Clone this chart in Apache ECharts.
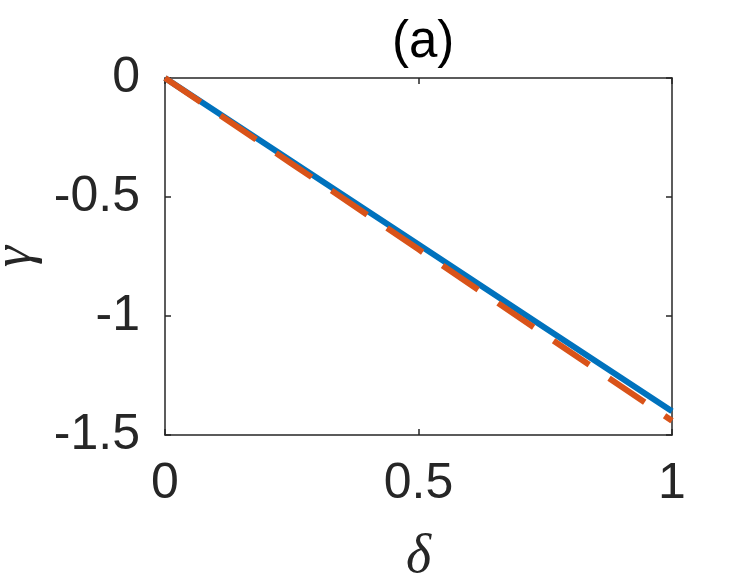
<!DOCTYPE html>
<html>
<head>
<meta charset="utf-8">
<script src="https://cdn.jsdelivr.net/npm/echarts@6/dist/echarts.min.js"></script>
<style>
html,body{margin:0;padding:0;background:#fff;}
#c{width:745px;height:583px;}
</style>
</head>
<body>
<div id="c"></div>
<script>
const titleText = '(a)';
const xName = 'δ';
const yName = 'γ';
const deltaValues = [0, 0.25, 0.5, 0.75, 1];
const gammaSolid = [0, -0.35, -0.70, -1.05, -1.40];
const gammaDashed = [0, -0.36, -0.72, -1.08, -1.44];
const xTickInterval = 0.5;
const yTickInterval = 0.5;

const solidData = deltaValues.map((x, i) => [x, gammaSolid[i]]);
const dashedData = deltaValues.map((x, i) => [x, gammaDashed[i]]);

const axisColor = '#262626';
const labelFont = {fontFamily: 'Liberation Sans, Arial, sans-serif', fontSize: 50, color: axisColor};

const chart = echarts.init(document.getElementById('c'), null, {renderer: 'canvas'});
chart.setOption({
  animation: false,
  backgroundColor: '#ffffff',
  title: {
    text: titleText, left: 387, top: 12,
    textStyle: {fontFamily: 'Liberation Sans, Arial, sans-serif', fontSize: 51, fontWeight: 'normal', color: '#000'}
  },
  grid: {left: 165, right: 73, top: 78, bottom: 148, containLabel: false, outerBoundsMode: 'none'},
  xAxis: [{
    type: 'value', min: 0, max: 1, interval: xTickInterval, position: 'bottom',
    name: xName, nameLocation: 'middle', nameGap: 96,
    nameTextStyle: {fontFamily: 'Liberation Serif, Times New Roman, serif', fontStyle: 'italic', fontSize: 54, color: axisColor},
    axisLine: {show: true, onZero: false, lineStyle: {color: axisColor, width: 1.5}},
    axisTick: {show: true, inside: true, length: 6, lineStyle: {color: axisColor, width: 1.5}},
    axisLabel: Object.assign({margin: 24}, labelFont),
    splitLine: {show: false}
  }, {
    type: 'value', min: 0, max: 1, interval: xTickInterval, position: 'top',
    axisLine: {show: true, onZero: false, lineStyle: {color: axisColor, width: 1.5}},
    axisTick: {show: true, inside: true, length: 6, lineStyle: {color: axisColor, width: 1.5}},
    axisLabel: {show: false}, splitLine: {show: false}
  }],
  yAxis: [{
    type: 'value', min: -1.5, max: 0, interval: yTickInterval, position: 'left',
    name: yName, nameLocation: 'middle', nameGap: 118, nameRotate: 90,
    nameTextStyle: {fontFamily: 'Liberation Serif, Times New Roman, serif', fontStyle: 'italic', fontSize: 54, color: axisColor},
    axisLine: {show: true, onZero: false, lineStyle: {color: axisColor, width: 1.5}},
    axisTick: {show: true, inside: true, length: 6, lineStyle: {color: axisColor, width: 1.5}},
    axisLabel: Object.assign({margin: 25}, labelFont),
    splitLine: {show: false}
  }, {
    type: 'value', min: -1.5, max: 0, interval: yTickInterval, position: 'right',
    axisLine: {show: true, onZero: false, lineStyle: {color: axisColor, width: 1.5}},
    axisTick: {show: true, inside: true, length: 6, lineStyle: {color: axisColor, width: 1.5}},
    axisLabel: {show: false}, splitLine: {show: false}
  }],
  series: [{
    type: 'line', data: solidData, xAxisIndex: 0, yAxisIndex: 0,
    showSymbol: false, symbol: 'none', clip: true,
    lineStyle: {color: '#0072BD', width: 6, type: 'solid', cap: 'butt'},
    z: 2
  }, {
    type: 'line', data: dashedData, xAxisIndex: 0, yAxisIndex: 0,
    showSymbol: false, symbol: 'none', clip: true,
    lineStyle: {color: '#D95319', width: 6, type: [43, 24], cap: 'butt'},
    z: 3
  }]
});
</script>
</body>
</html>
